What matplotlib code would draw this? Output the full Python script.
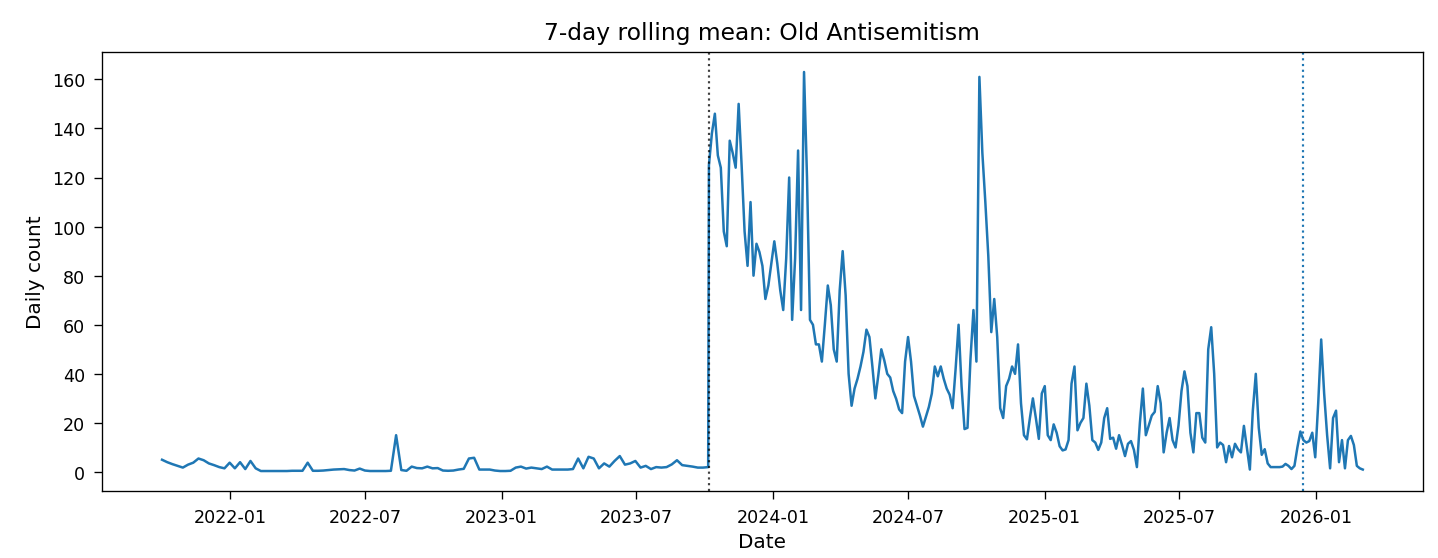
import matplotlib
matplotlib.use('Agg')
import matplotlib.pyplot as plt
import matplotlib.dates as mdates
import pandas as pd

# weekly 7-day mean before the break (from 2021-10-01)
pre_start = '2021-10-01'
pre_values = [5, 4, 3.2, 2.5, 1.8, 3, 3.8, 5.5, 4.8, 3.5,
              2.8, 2, 1.5, 3.8, 1.5, 4, 1.2, 4.5, 1.5, 0.4,
              0.4, 0.4, 0.4, 0.4, 0.4, 0.5, 0.5, 0.5, 3.8, 0.5,
              0.5, 0.6, 0.8, 1, 1.1, 1.2, 0.8, 0.6, 1.4, 0.6,
              0.4, 0.4, 0.4, 0.4, 0.5, 15, 0.8, 0.5, 2.2, 1.6,
              1.5, 2.2, 1.5, 1.6, 0.6, 0.5, 0.6, 1, 1.3, 5.5,
              5.8, 1, 1, 1, 0.6, 0.4, 0.4, 0.5, 1.8, 2.2,
              1.4, 1.8, 1.5, 1.2, 2.2, 1, 1, 1, 1, 1.2,
              5.5, 1.5, 6.2, 5.5, 1.5, 3.5, 2.2, 4.5, 6.5, 3,
              3.5, 4.5, 1.8, 2.5, 1.2, 2, 1.8, 2, 3.1, 4.8,
              2.8, 2.5, 2.2, 1.8, 1.8, 2]

# every 4 days from 2023-10-07
post_start = '2023-10-07'
post_values = [125, 138, 146, 129, 124, 98, 92, 135, 130, 124,
               150, 125, 98, 84, 110, 80, 93, 89.6, 84, 70.5,
               76, 85, 94, 85, 74, 66, 87, 120, 62, 87,
               131, 66, 163, 120, 62, 60, 52, 52, 45, 60,
               76, 68, 50, 45, 74, 90, 72, 40, 27, 34,
               38, 43, 49, 58, 55, 43, 30, 39.5, 50, 45.5,
               40, 38.5, 33, 29.8, 25.5, 24, 45, 55, 45, 31,
               27, 23, 18.5, 22.5, 26.5, 32, 43, 39, 43, 38,
               34, 31.5, 26, 42, 60, 35, 17.5, 18, 46, 66,
               45, 161, 130, 110, 88, 57, 70.5, 55, 26, 22,
               35, 38, 43, 40, 52, 28, 15, 13.3, 22, 30,
               22, 13.5, 32, 35, 15, 13, 19.4, 16, 10.5, 8.8,
               9.2, 13, 36, 43, 17, 20, 22, 36, 27, 13,
               12, 9, 12, 22, 26, 13.5, 14, 9.5, 15, 11,
               6.5, 11.5, 12.6, 9, 2, 20, 34, 15, 19, 23,
               24.5, 35, 28, 8, 16, 22, 13, 10, 19, 33,
               41, 35, 16, 8, 24, 24, 14, 12, 50, 59,
               40, 10, 12, 11, 4, 10.6, 6, 11.5, 9.3, 8,
               18.8, 10, 1, 25, 40, 18, 7, 9.3, 3.5, 2,
               2, 2, 2, 2.2, 3.3, 2.5, 1.2, 2.5, 10, 16.5,
               13, 12, 12.6, 16, 6, 28, 54, 32, 15, 1.5,
               22, 25, 4, 13, 1.5, 13, 14.7, 11, 2.5, 1.5, 1]

event_dates = ['2023-10-07', '2025-12-14']

dates = pd.date_range(pre_start, periods=len(pre_values), freq='7D').append(
    pd.date_range(post_start, periods=len(post_values), freq='4D'))
values = pre_values + post_values

fig = plt.figure(figsize=(11.99, 4.658), dpi=120)
ax = fig.add_axes([0.0709, 0.1199, 0.918, 0.7853])
ax.plot(dates, values, color='#1f77b4', lw=1.5)
ax.axvline(pd.Timestamp(event_dates[0]), color='k', ls=':', lw=1.3, alpha=0.75)
ax.axvline(pd.Timestamp(event_dates[1]), color='#1f77b4', ls=':', lw=1.3)

ax.xaxis.set_major_locator(mdates.MonthLocator(bymonth=[1, 7]))
ax.xaxis.set_major_formatter(mdates.DateFormatter('%Y-%m'))
ax.tick_params(labelsize=10.5, length=5, pad=5)
ax.set_title('7-day rolling mean: Old Antisemitism', fontsize=14, pad=8)
ax.set_xlabel('Date', fontsize=12)
ax.set_ylabel('Daily count', fontsize=12)

fig.savefig('out.png', dpi=120)
